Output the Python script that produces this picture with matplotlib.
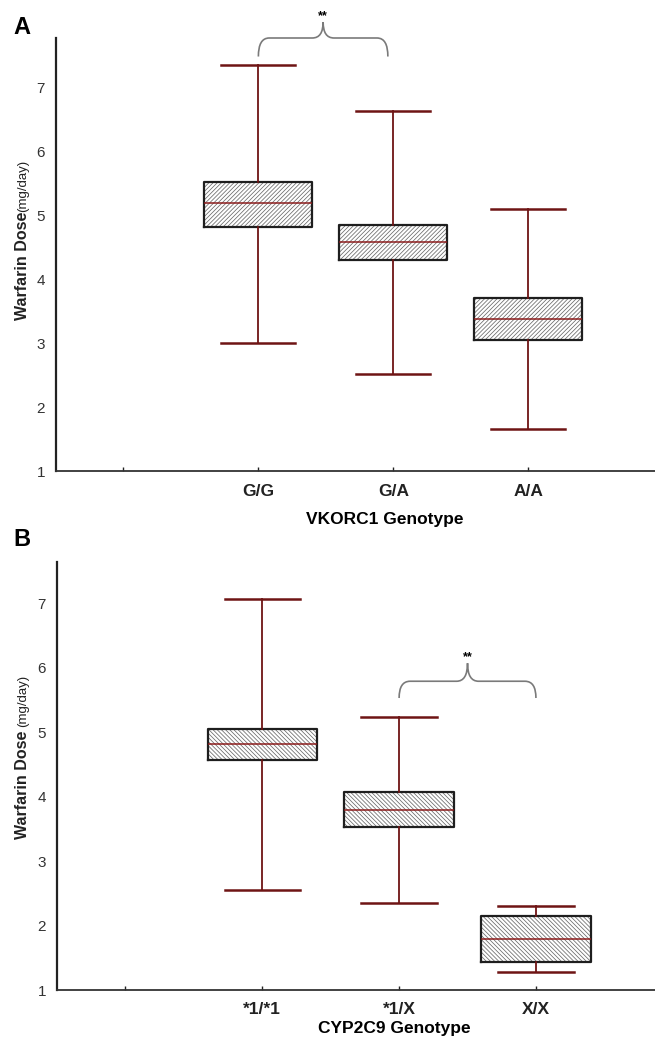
import matplotlib
matplotlib.use("Agg")
import matplotlib.pyplot as plt
from matplotlib.path import Path
from matplotlib.patches import PathPatch
from matplotlib.transforms import ScaledTranslation

plt.rcParams["font.family"] = ["Liberation Sans", "DejaVu Sans"]
plt.rcParams["hatch.linewidth"] = 0.55

# Panel A: VKORC1 genotype
vkorc1_labels = ["G/G", "G/A", "A/A"]
vkorc1_whislo = [3.00, 2.52, 1.66]
vkorc1_q1 = [4.82, 4.31, 3.05]
vkorc1_med = [5.20, 4.59, 3.38]
vkorc1_q3 = [5.53, 4.85, 3.71]
vkorc1_whishi = [7.36, 6.63, 5.10]

# Panel B: CYP2C9 genotype
cyp2c9_labels = ["*1/*1", "*1/X", "X/X"]
cyp2c9_whislo = [2.55, 2.35, 1.28]
cyp2c9_q1 = [4.57, 3.53, 1.43]
cyp2c9_med = [4.81, 3.80, 1.79]
cyp2c9_q3 = [5.05, 4.07, 2.15]
cyp2c9_whishi = [7.06, 5.23, 2.30]

W, H = 655, 1049
maroon = "#6e1414"


def draw_brace(ax, x0, x1, yb, yh, ytip, dx):
    xm = (x0 + x1) / 2
    verts = [(x0, yb), (x0, yh), (x0 + dx, yh),
             (xm - dx, yh), (xm, yh), (xm, ytip),
             (xm, yh), (xm + dx, yh),
             (x1 - dx, yh), (x1, yh), (x1, yb)]
    codes = [Path.MOVETO, Path.CURVE3, Path.CURVE3,
             Path.LINETO, Path.CURVE3, Path.CURVE3,
             Path.CURVE3, Path.CURVE3,
             Path.LINETO, Path.CURVE3, Path.CURVE3]
    ax.add_patch(PathPatch(Path(verts, codes), fill=False, edgecolor="#7a7a7a",
                           linewidth=1.2, clip_on=False))
    ax.text(xm, ytip, "**", ha="center", va="bottom", fontsize=9,
            fontweight="bold", clip_on=False)


def draw_panel(ax, labels, whislo, q1, med, q3, whishi, hatch, ytop, xright, xlabel,
               xlabel_pos, label_dx):
    stats = []
    for lab, lo, a, m, b, hi in zip(labels, whislo, q1, med, q3, whishi):
        stats.append(dict(label=lab, whislo=lo, q1=a, med=m, q3=b, whishi=hi, fliers=[]))
    pos = [1, 2, 3]

    # hatched fill first (hatch takes the edge colour, so outline is drawn separately)
    ax.bxp(stats, positions=pos, widths=0.8, patch_artist=True, showcaps=False,
           boxprops=dict(facecolor="white", edgecolor="#6a6a6a", hatch=hatch, linewidth=0),
           whiskerprops=dict(linewidth=0), medianprops=dict(linewidth=0),
           manage_ticks=False)
    ax.bxp(stats, positions=pos, widths=0.8, capwidths=0.55, patch_artist=False,
           boxprops=dict(color="#1e1e1e", linewidth=1.6),
           whiskerprops=dict(color=maroon, linewidth=1.3),
           capprops=dict(color=maroon, linewidth=1.8),
           medianprops=dict(color="#8c1c1c", linewidth=1.1),
           manage_ticks=False)

    ax.set_xlim(-0.5, xright)
    ax.set_ylim(1, ytop)
    ax.set_yticks([1, 2, 3, 4, 5, 6, 7])
    ax.set_xticks([0, 1, 2, 3])
    ax.set_xticklabels([""] + labels, fontweight="bold", fontsize=12.5)
    for t in ax.get_xticklabels():
        t.set_transform(t.get_transform() + ScaledTranslation(label_dx / 100, 0, ax.figure.dpi_scale_trans))
    ax.tick_params(axis="x", direction="in", length=3, width=1, pad=9, colors="#222222")
    ax.tick_params(axis="y", length=0, pad=8, labelsize=11, labelcolor="#333333")
    for s in ["top", "right"]:
        ax.spines[s].set_visible(False)
    ax.spines["left"].set_linewidth(1.6)
    ax.spines["left"].set_color("#222222")
    ax.spines["bottom"].set_linewidth(1.3)
    ax.spines["bottom"].set_color("#333333")

    ax.set_xlabel(xlabel, fontsize=12.5, fontweight="bold")
    ax.xaxis.label.set_va("center")
    ax.xaxis.set_label_coords(*xlabel_pos)


fig = plt.figure(figsize=(W / 100, H / 100), dpi=100)

axA = fig.add_axes([56 / W, 1 - 471 / H, 1 - 56 / W, (471 - 38) / H])
draw_panel(axA, vkorc1_labels, vkorc1_whislo, vkorc1_q1, vkorc1_med, vkorc1_q3,
           vkorc1_whishi, "////////", 7.78, 3.94, "VKORC1 Genotype", (0.549, -0.113), -10)
draw_brace(axA, 1.0, 1.96, 7.49, 7.78, 8.03, 0.08)

axB = fig.add_axes([57 / W, 1 - 990 / H, 1 - 57 / W, (990 - 562) / H])
draw_panel(axB, cyp2c9_labels, cyp2c9_whislo, cyp2c9_q1, cyp2c9_med, cyp2c9_q3,
           cyp2c9_whishi, "\\" * 8, 7.64, 3.87, "CYP2C9 Genotype", (0.5635, -0.091), -2)
draw_brace(axB, 2.0, 3.0, 5.53, 5.79, 6.07, 0.08)

# panel letters
fig.text(22 / W, 1 - 27 / H, "A", fontsize=17, fontweight="bold", ha="center", va="center")
fig.text(22 / W, 1 - 540 / H, "B", fontsize=17, fontweight="bold", ha="center", va="center")

# y labels: bold "Warfarin Dose" with plain "(mg/day)"
for top_unit, top_bold in [(160, 212), (675, 731)]:
    fig.text(23 / W, 1 - top_unit / H, "(mg/day)", rotation=90, fontsize=9.5,
             ha="center", va="top", color="#222222")
    fig.text(23 / W, 1 - top_bold / H, "Warfarin Dose", rotation=90, fontsize=11.5,
             fontweight="bold", ha="center", va="top", color="#222222")

fig.savefig("out.png", dpi=100)
